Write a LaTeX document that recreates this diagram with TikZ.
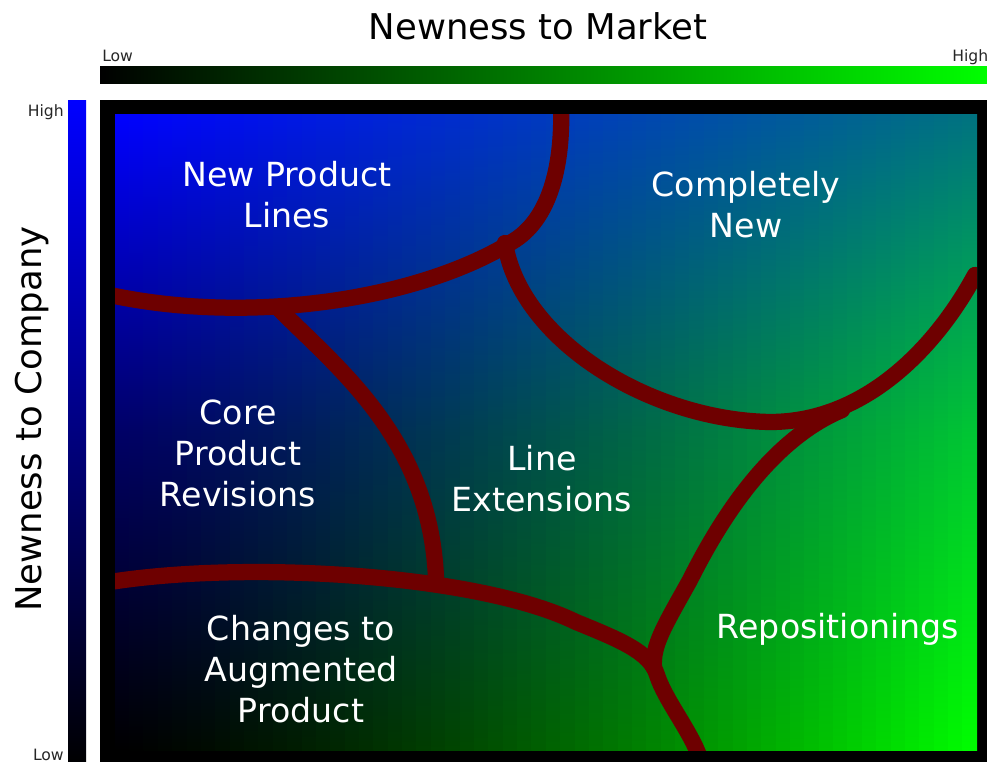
\documentclass[tikz,border=0pt]{standalone}
\usepackage{fontspec}
\setmainfont{DejaVu Sans}
\definecolor{curvered}{RGB}{110,0,0}
\definecolor{brightgreen}{RGB}{0,255,0}
\definecolor{brightblue}{RGB}{0,0,255}
\begin{document}
\begin{tikzpicture}[x=0.75pt,y=-0.75pt,
  region/.style={text=white, font=\fontsize{24.9}{30.75}\selectfont, align=center, inner sep=0pt},
  border/.style={draw=curvered, line width=12.2pt, line cap=round},
  axislabel/.style={font=\fontsize{26.6}{32}\selectfont, inner sep=0pt},
  ticklabel/.style={font=\fontsize{11.7}{14}\selectfont, inner sep=0pt, text=black!85}]
\useasboundingbox (0,0) rectangle (987,762);
% axes
\node[axislabel, anchor=base] (title) at (538,40) {Newness to Market};
\node[axislabel, rotate=90, anchor=base] (ylabel) at (41,419) {Newness to Company};
\shade[left color=black, right color=brightgreen] (100,67) rectangle (990,84);
\shade[top color=brightblue, bottom color=black] (68,101) rectangle (86,765);
\node[ticklabel, anchor=base west] (xlow) at (102,62) {Low};
\node[ticklabel, anchor=base west] (xhigh) at (952,62) {High};
\node[ticklabel, anchor=base east] (yhigh) at (64,117) {High};
\node[ticklabel, anchor=base east] (ylow) at (64,760) {Low};
% frame
\fill[black] (100,100) rectangle (995,770);
\begin{scope}
\clip (115,115) rectangle (977,750);
\foreach \i in {0,...,59}{
  \pgfmathsetmacro{\u}{(\i+0.5)/60}
  \pgfmathsetmacro{\tg}{0.45*\u}
  \pgfmathsetmacro{\tb}{1-0.5*\u}
  \pgfmathsetmacro{\bg}{\u^1.4}
  \pgfmathsetmacro{\mg}{0.4*\tg+0.6*\bg}
  \pgfmathsetmacro{\mb}{0.4*\tb}
  \definecolor{tcol}{rgb}{0,\tg,\tb}
  \definecolor{mcol}{rgb}{0,\mg,\mb}
  \definecolor{bcol}{rgb}{0,\bg,0}
  \shade[top color=tcol, bottom color=bcol, middle color=mcol]
    ({115+\i*14.367},115) rectangle ({115+\i*14.367+15.5},750);
}
% boundaries
\coordinate (A0) at (110,295);
\coordinate (A1) at (515,240);
\coordinate (A2) at (561,105);
\coordinate (B0) at (505,243);
\coordinate (B1) at (770,422);
\coordinate (B2) at (975,275);
\coordinate (C0) at (278,308);
\coordinate (C1) at (436,578);
\coordinate (D0) at (110,582);
\coordinate (D1) at (576,622);
\coordinate (D2) at (657,675);
\coordinate (D3) at (700,758);
\coordinate (E0) at (842,410);
\coordinate (E1) at (690,580);
\coordinate (E2) at (654,668);
\draw[border] (A0) .. controls (250,325) and (420,300) .. (A1) .. controls (552,216) and (563,160) .. (A2);
\draw[border] (B0) .. controls (520,340) and (650,420) .. (B1) .. controls (870,422) and (940,340) .. (B2);
\draw[border] (C0) .. controls (340,370) and (430,440) .. (C1);
\draw[border] (D0) .. controls (250,560) and (480,575) .. (D1) .. controls (620,640) and (650,652) .. (D2) .. controls (665,700) and (690,730) .. (D3);
\draw[border] (E0) .. controls (770,440) and (720,520) .. (E1) .. controls (665,625) and (652,645) .. (E2);
\end{scope}
% region labels
\node[region] (npl) at (287,195) {New Product\\Lines};
\node[region] (cn) at (746,205) {Completely\\New};
\node[region] (cpr) at (238,453) {Core\\Product\\Revisions};
\node[region] (le) at (542,479) {Line\\Extensions};
\node[region] (cap) at (301,669) {Changes to\\Augmented\\Product};
\node[region] (rep) at (838,629) {Repositionings};
\end{tikzpicture}
\end{document}
